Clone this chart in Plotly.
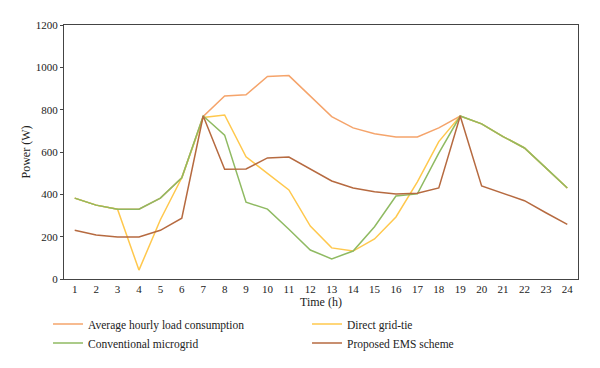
import plotly.graph_objects as go

hours = [str(h) for h in range(1, 25)]

avg_load = [382, 349, 330, 330, 382, 478, 768, 865, 870, 957, 961, 862,
            767, 714, 686, 671, 671, 714, 770, 733, 673, 619, 525, 430]
direct_grid = [382, 349, 330, 42, 280, 478, 763, 775, 577, 501, 421, 250,
               147, 132, 189, 293, 459, 649, 770, 733, 673, 619, 525, 430]
conventional = [382, 349, 330, 330, 382, 478, 770, 680, 363, 330, 235, 137,
                95, 132, 247, 392, 402, 595, 770, 733, 673, 619, 525, 430]
proposed_ems = [230, 208, 198, 198, 230, 287, 770, 518, 520, 572, 576, 518,
                463, 430, 412, 402, 405, 430, 770, 440, 405, 370, 313, 258]

y_ticks = [0, 200, 400, 600, 800, 1000, 1200]

FONT = "Liberation Serif"

fig = go.Figure()
series = [
    ("Average hourly load consumption", avg_load, "#F5A46B", 1),
    ("Direct grid-tie", direct_grid, "#FFC84D", 2),
    ("Conventional microgrid", conventional, "#8FBA62", 3),
    ("Proposed EMS scheme", proposed_ems, "#B66A40", 4),
]
for name, vals, color, rank in series:
    fig.add_trace(go.Scatter(
        x=hours, y=vals, mode="lines", name=name,
        line=dict(color=color, width=1.5), legendrank=rank,
    ))

fig.update_layout(
    width=592, height=360,
    margin=dict(l=56, r=22, t=17, b=89, autoexpand=False),
    paper_bgcolor="white", plot_bgcolor="white",
    font=dict(family=FONT, size=11, color="#222"),
    showlegend=True,
    legend=dict(
        orientation="h", xref="container", yref="container",
        x=0.0676, y=0.1625, xanchor="left", yanchor="top",
        entrywidth=214, entrywidthmode="pixels", itemwidth=30,
        font=dict(family=FONT, size=11.5, color="#222"),
        tracegroupgap=0, bgcolor="rgba(0,0,0,0)",
    ),
    xaxis=dict(
        type="category", range=[-0.5, 23.5], showgrid=False, zeroline=False,
        showline=True, linecolor="#444", linewidth=1, mirror=True,
        ticks="", tickfont=dict(size=11),
        title=dict(text="Time (h)", font=dict(size=12), standoff=6),
    ),
    yaxis=dict(
        range=[0, 1200], tickvals=y_ticks, showgrid=False, zeroline=False,
        showline=True, linecolor="#444", linewidth=1, mirror=True,
        ticks="outside", ticklen=3, tickcolor="#444", tickfont=dict(size=11),
        title=dict(text="Power (W)", font=dict(size=12), standoff=2),
    ),
)

fig.write_html("out.html")
